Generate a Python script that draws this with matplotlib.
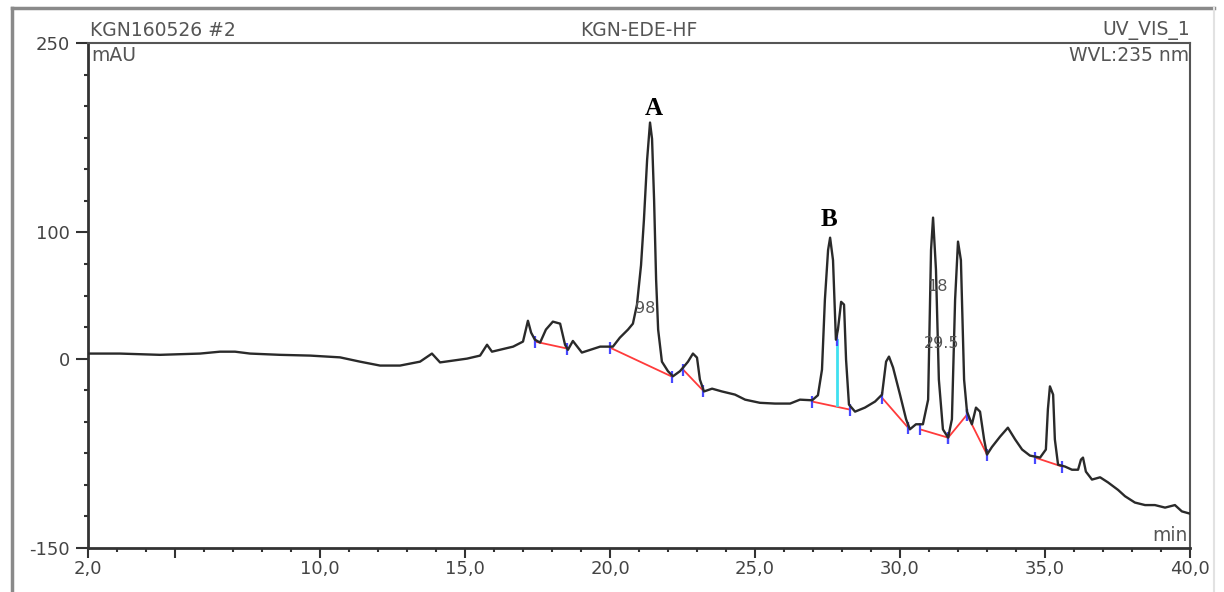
import matplotlib.pyplot as plt
from matplotlib.lines import Line2D
from matplotlib.ticker import FixedLocator, MultipleLocator

# chromatogram trace: retention time (min) and absorbance (mAU)
time_min = [2.0, 3.1, 4.48, 5.86, 6.55, 7.07, 7.59, 8.62, 9.66, 10.69, 11.38,
            12.07, 12.76, 13.45, 13.86, 14.14, 15.07, 15.52, 15.76, 15.93, 16.66,
            17.0, 17.1, 17.17, 17.28, 17.41, 17.59, 17.79, 18.03, 18.28, 18.45,
            18.55, 18.72, 19.03, 19.66, 20.1, 20.34, 20.62, 20.79, 20.93, 21.07,
            21.17, 21.28, 21.38, 21.45, 21.52, 21.59, 21.66, 21.79, 22.0, 22.17,
            22.41, 22.55, 22.69, 22.86, 23.0, 23.1, 23.24, 23.52, 23.86, 24.31,
            24.66, 25.17, 25.69, 26.21, 26.55, 26.97, 27.17, 27.31, 27.41, 27.52,
            27.59, 27.69, 27.79, 27.86, 27.97, 28.07, 28.14, 28.24, 28.45, 28.79,
            29.14, 29.38, 29.52, 29.62, 29.76, 30.0, 30.21, 30.34, 30.55, 30.79,
            30.97, 31.07, 31.14, 31.24, 31.34, 31.48, 31.66, 31.79, 31.9, 32.0,
            32.1, 32.21, 32.31, 32.48, 32.62, 32.76, 32.9, 33.0, 33.17, 33.45,
            33.72, 33.97, 34.21, 34.48, 34.83, 35.03, 35.1, 35.17, 35.28, 35.34,
            35.45, 35.69, 35.93, 36.14, 36.24, 36.31, 36.41, 36.62, 36.9, 37.17,
            37.52, 37.76, 38.1, 38.45, 38.79, 39.14, 39.48, 39.72, 40.0]
signal_mau = [4.0, 4.0, 3.0, 4.0, 5.5, 5.5, 4.0, 3.0, 2.4, 1.0, -2.4,
              -5.5, -5.5, -2.4, 4.0, -3.0, 0.0, 2.4, 11.0, 5.5, 9.5,
              13.5, 23.0, 30.0, 20.6, 15.0, 12.7, 23.0, 29.3, 27.7, 11.0,
              7.0, 14.0, 4.8, 9.5, 9.5, 16.6, 23.0, 27.7, 42.8, 74.0,
              110.0, 157.6, 187.0, 174.0, 126.0, 62.6, 23.0, -2.4, -10.0, -14.0,
              -10.0, -6.3, -2.4, 4.0, 0.8, -16.6, -26.0, -23.8, -26.0, -28.5,
              -32.5, -35.0, -35.6, -35.6, -32.5, -33.0, -29.0, -8.7, 46.7, 86.0,
              95.8, 78.0, 15.0, 23.0, 45.0, 42.8, -0.8, -36.4, -42.0, -38.8,
              -34.0, -28.5, -2.4, 1.6, -7.0, -28.5, -48.0, -56.0, -52.0, -52.0,
              -32.5, 86.0, 111.7, 70.5, -16.6, -56.0, -62.6, -48.0, 46.7, 92.7,
              78.0, -16.6, -42.0, -52.0, -38.8, -42.0, -64.0, -76.0, -70.0, -61.8,
              -54.7, -64.0, -72.0, -76.8, -78.4, -72.0, -40.0, -22.0, -28.5, -64.0,
              -84.0, -85.5, -88.0, -88.0, -80.0, -78.4, -89.5, -95.8, -94.0, -98.0,
              -104.0, -109.0, -114.0, -116.0, -116.0, -118.0, -116.0, -121.0, -122.8]

# integration baselines (start t, start y, end t, end y)
baselines = [(17.41, 13.5, 18.52, 8.0),
             (20.0, 8.7, 22.14, -14.3),
             (22.52, -8.7, 23.21, -25.3),
             (26.97, -34.0, 28.28, -40.4),
             (29.38, -31.0, 30.28, -54.7),
             (30.69, -56.0, 31.66, -62.6),
             (31.66, -62.6, 32.31, -44.4),
             (32.31, -44.4, 33.0, -76.0),
             (34.66, -78.4, 35.59, -85.5)]
drop_t = 27.83
drop_y = (-36.7, 15.0)

peak_names = ["A", "B"]
peak_name_pos = [(21.5, 198), (27.55, 110)]
peak_nums = ["98", "18", "29.5"]
peak_num_pos = [(21.2, 40), (31.3, 57), (31.45, 12)]

y_ticks = [250, 100, 0, -150]
x_ticks = [2, 5, 10, 15, 20, 25, 30, 35, 40]
x_labels = ["2,0", "", "10,0", "15,0", "20,0", "25,0", "30,0", "35,0", "40,0"]

plt.rcParams['font.family'] = ['DejaVu Sans']
fig = plt.figure(figsize=(12.24, 5.92), dpi=100)
ax = fig.add_axes([88 / 1224, 1 - 548 / 592, 1102 / 1224, 505 / 592])

# outer report frame (top and left edges dark, right edge faint)
fx0, fx1, fy = 12 / 1224, 1214 / 1224, 1 - 8 / 592
fig.add_artist(Line2D([fx0, fx1], [fy, fy], color='#8a8a8a', lw=2.5))
fig.add_artist(Line2D([fx0, fx0], [0, fy], color='#8a8a8a', lw=2.5))
fig.add_artist(Line2D([fx1, fx1], [0, fy], color='#e2e2e2', lw=1.5))

# baselines, drop line and delimiters
for t0, y0, t1, y1 in baselines:
    ax.plot([t0, t1], [y0, y1], color='#ff3b3b', lw=1.3, zorder=2)
ax.plot([drop_t, drop_t], drop_y, color='#40e0f0', lw=2.0, zorder=2)
marks_t = [b[0] for b in baselines] + [b[2] for b in baselines] + [drop_t]
marks_y = [b[1] for b in baselines] + [b[3] for b in baselines] + [drop_y[1]]
ax.plot(marks_t, marks_y, ls='none', marker='|', ms=9, mew=1.6,
        color='#4848ff', zorder=3)

ax.plot(time_min, signal_mau, color='#2a2a2a', lw=1.7, zorder=4)

for txt, (t, y) in zip(peak_nums, peak_num_pos):
    ax.text(t, y, txt, ha='center', va='center', fontsize=11.5, color='#555555', zorder=5)
for txt, (t, y) in zip(peak_names, peak_name_pos):
    ax.text(t, y, txt, ha='center', va='center', fontsize=18, fontweight='bold',
            family='Liberation Serif', color='black', zorder=6)

ax.set_xlim(2, 40)
ax.set_ylim(-150, 250)
ax.xaxis.set_major_locator(FixedLocator(x_ticks))
ax.set_xticklabels(x_labels)
ax.xaxis.set_minor_locator(MultipleLocator(1))
ax.yaxis.set_major_locator(FixedLocator(y_ticks))
ax.set_yticklabels([str(v) for v in y_ticks])
ax.yaxis.set_minor_locator(MultipleLocator(25))
ax.tick_params(which='major', length=7, width=1.5, color='#333333',
               labelsize=13, labelcolor='#444444', pad=2)
ax.tick_params(axis='y', which='major', length=9, pad=4)
ax.tick_params(which='minor', length=3, width=1.5, color='#333333')
for side in ['left', 'bottom']:
    ax.spines[side].set_linewidth(2.0)
    ax.spines[side].set_color('#333333')
for side in ['top', 'right']:
    ax.spines[side].set_linewidth(1.5)
    ax.spines[side].set_color('#555555')

grey = '#555555'
hdr = 13.5
ax.text(0.002, 1.006, "KGN160526 #2", transform=ax.transAxes, ha='left', va='bottom',
        fontsize=hdr, color=grey)
ax.text(0.5, 1.006, "KGN-EDE-HF", transform=ax.transAxes, ha='center', va='bottom',
        fontsize=hdr, color=grey)
ax.text(1.0, 1.006, "UV_VIS_1", transform=ax.transAxes, ha='right', va='bottom',
        fontsize=hdr, color=grey)
ax.text(0.003, 0.995, "mAU", transform=ax.transAxes, ha='left', va='top',
        fontsize=hdr, color=grey)
ax.text(0.999, 0.995, "WVL:235 nm", transform=ax.transAxes, ha='right', va='top',
        fontsize=hdr, color=grey)
ax.text(0.998, 0.006, "min", transform=ax.transAxes, ha='right', va='bottom',
        fontsize=hdr, color=grey)

fig.savefig("out.png", dpi=100)
